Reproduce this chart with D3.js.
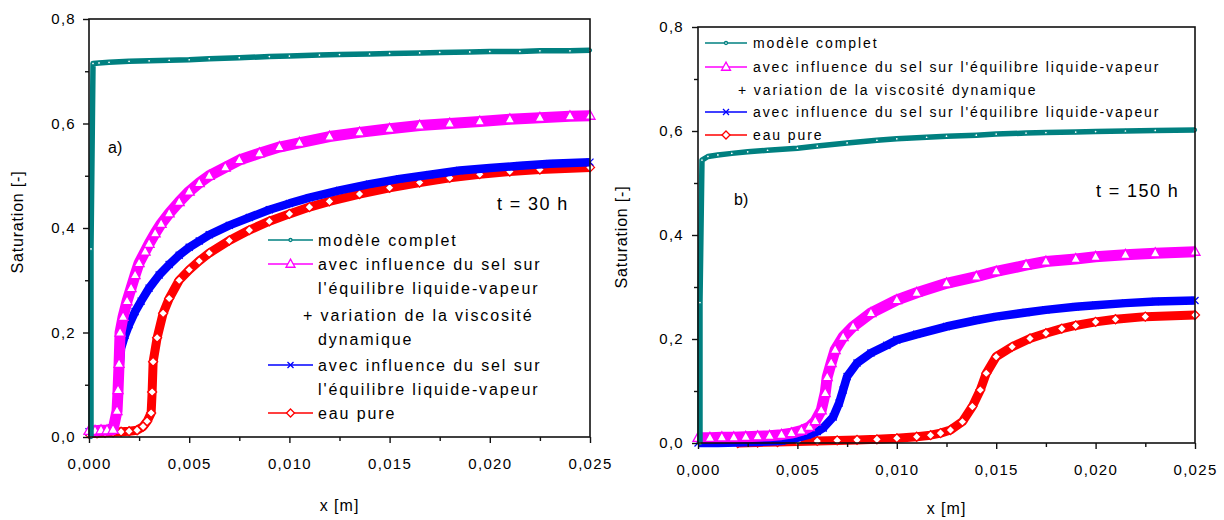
<!DOCTYPE html>
<html><head><meta charset="utf-8">
<script src="https://cdn.jsdelivr.net/npm/d3@7"></script>
<style>
body{margin:0;background:#fff;}
text{font-family:"Liberation Sans",Arial,sans-serif;fill:#000;}
</style>
</head><body>
<svg id="c" width="1224" height="520"></svg>
<script>
// ---------- DATA ----------
const xTickValues = [0, 0.005, 0.010, 0.015, 0.020, 0.025];
const xTickLabels = ["0,000", "0,005", "0,010", "0,015", "0,020", "0,025"];
const xMinorTicks = [0.0025, 0.0075, 0.0125, 0.0175, 0.0225];
const yTickValues = [0, 0.2, 0.4, 0.6, 0.8];
const yTickLabels = ["0,0", "0,2", "0,4", "0,6", "0,8"];
const yMinorTicks = [0.1, 0.3, 0.5, 0.7];

const legendLabels = ["modèle complet", "avec influence du sel sur l'équilibre liquide-vapeur", "+ variation de la viscosité dynamique", "avec influence du sel sur l'équilibre liquide-vapeur", "eau pure"];

// panel a) t = 30 h   [x (m), saturation]
const completA = [[0.0001,0.0],[0.0001,0.36],[0.0002,0.715],[0.0005,0.716],[0.001,0.717],[0.002,0.719],[0.003,0.72],[0.004,0.721],[0.005,0.722],[0.006,0.724],[0.0075,0.726],[0.009,0.728],[0.010,0.729],[0.0115,0.731],[0.0125,0.732],[0.014,0.733],[0.015,0.734],[0.0165,0.735],[0.0175,0.736],[0.019,0.737],[0.020,0.738],[0.0215,0.738],[0.0225,0.739],[0.024,0.739],[0.025,0.74]];
const viscoA = [[0.0,0.012],[0.0003,0.012],[0.0006,0.013],[0.0009,0.013],[0.0012,0.014],[0.0014,0.05],[0.00145,0.09],[0.0015,0.14],[0.00155,0.2],[0.0017,0.23],[0.0019,0.26],[0.0021,0.285],[0.0023,0.31],[0.0025,0.333],[0.0028,0.355],[0.003,0.37],[0.0033,0.39],[0.0036,0.408],[0.004,0.428],[0.0045,0.45],[0.005,0.47],[0.0055,0.486],[0.006,0.5],[0.0068,0.516],[0.0075,0.53],[0.0085,0.543],[0.0095,0.555],[0.0105,0.563],[0.012,0.575],[0.0135,0.583],[0.015,0.59],[0.0165,0.596],[0.018,0.6],[0.0195,0.604],[0.021,0.608],[0.0225,0.611],[0.024,0.614],[0.025,0.615]];
const selA = [[0.0,0.01],[0.0003,0.011],[0.0006,0.012],[0.0009,0.013],[0.0012,0.02],[0.0013,0.03],[0.0014,0.06],[0.0015,0.12],[0.0016,0.17],[0.0018,0.195],[0.002,0.215],[0.0023,0.24],[0.0026,0.26],[0.003,0.285],[0.0035,0.31],[0.004,0.33],[0.0045,0.348],[0.005,0.363],[0.0055,0.375],[0.006,0.387],[0.007,0.405],[0.008,0.42],[0.009,0.435],[0.010,0.447],[0.011,0.458],[0.0125,0.472],[0.014,0.484],[0.0155,0.494],[0.017,0.502],[0.0185,0.51],[0.020,0.515],[0.0215,0.519],[0.023,0.523],[0.025,0.526]];
const pureA = [[0.0,0.006],[0.0004,0.007],[0.0008,0.008],[0.0012,0.009],[0.0016,0.01],[0.002,0.011],[0.0024,0.013],[0.0027,0.02],[0.0029,0.03],[0.0031,0.046],[0.00315,0.086],[0.0032,0.144],[0.0034,0.19],[0.0037,0.237],[0.004,0.265],[0.0045,0.3],[0.005,0.32],[0.0055,0.337],[0.006,0.352],[0.007,0.376],[0.008,0.396],[0.009,0.413],[0.010,0.427],[0.011,0.44],[0.012,0.451],[0.0135,0.465],[0.015,0.477],[0.0165,0.487],[0.018,0.496],[0.0195,0.503],[0.021,0.508],[0.0225,0.512],[0.025,0.516]];

// panel b) t = 150 h
const completB = [[0.0001,0.0],[0.0001,0.27],[0.0002,0.544],[0.0005,0.551],[0.001,0.554],[0.0017,0.557],[0.0025,0.56],[0.0035,0.563],[0.005,0.567],[0.006,0.571],[0.0075,0.577],[0.009,0.582],[0.010,0.585],[0.0115,0.588],[0.0125,0.59],[0.014,0.592],[0.015,0.594],[0.0165,0.596],[0.0175,0.597],[0.019,0.598],[0.020,0.599],[0.0215,0.6],[0.023,0.601],[0.025,0.602]];
const viscoB = [[0.0,0.01],[0.0006,0.01],[0.0012,0.011],[0.0018,0.011],[0.0024,0.012],[0.003,0.013],[0.0036,0.014],[0.0042,0.016],[0.0047,0.019],[0.0052,0.024],[0.0056,0.031],[0.0059,0.042],[0.0062,0.063],[0.0064,0.096],[0.0065,0.127],[0.0067,0.154],[0.0069,0.179],[0.0073,0.204],[0.0078,0.224],[0.0087,0.25],[0.010,0.275],[0.011,0.289],[0.0125,0.307],[0.014,0.32],[0.015,0.33],[0.0165,0.342],[0.0175,0.349],[0.019,0.354],[0.020,0.358],[0.0215,0.362],[0.023,0.365],[0.025,0.368]];
const selB = [[0.0,0.0],[0.001,0.0],[0.002,0.001],[0.003,0.002],[0.0042,0.004],[0.0048,0.008],[0.0055,0.015],[0.006,0.022],[0.0063,0.029],[0.0068,0.05],[0.0071,0.077],[0.0073,0.102],[0.0075,0.128],[0.008,0.154],[0.0087,0.173],[0.0095,0.188],[0.010,0.198],[0.011,0.209],[0.0125,0.224],[0.014,0.236],[0.015,0.243],[0.0165,0.251],[0.0175,0.256],[0.019,0.262],[0.020,0.265],[0.0215,0.269],[0.023,0.272],[0.025,0.274]];
const pureB = [[0.002,0.0],[0.003,0.001],[0.004,0.002],[0.005,0.003],[0.006,0.004],[0.007,0.005],[0.008,0.006],[0.009,0.007],[0.010,0.009],[0.011,0.012],[0.0117,0.015],[0.0122,0.019],[0.0127,0.025],[0.0133,0.041],[0.0138,0.07],[0.0142,0.102],[0.0145,0.134],[0.015,0.166],[0.0158,0.185],[0.0167,0.201],[0.0175,0.211],[0.0183,0.22],[0.019,0.226],[0.020,0.233],[0.021,0.238],[0.0225,0.243],[0.025,0.246]];

// ---------- STYLE ----------
const C = {teal:"#008080", mag:"#ff00ff", blue:"#0000ff", red:"#ff0000"};
const FONT = '"Liberation Sans", Arial, sans-serif';

function markerPath(type, s){
  if(type==="circle"){ return d3.symbol().type(d3.symbolCircle).size(s*s*0.8)(); }
  if(type==="tri"){ const h=s*0.9, w=s/2; return `M0,${-h*0.6}L${w},${h*0.4}L${-w},${h*0.4}Z`; }
  if(type==="diam"){ const w=s/2; return `M0,${-w}L${w},0L0,${w}L${-w},0Z`; }
  if(type==="x"){ const w=s/2; return `M${-w},${-w}L${w},${w}M${-w},${w}L${w},${-w}`; }
  if(type==="plus"){ const w=s/2; return `M${-w},0L${w},0M0,${-w}L0,${w}`; }
}

const svg = d3.select("#c");

function panel(o){
  const x = d3.scaleLinear().domain([0,0.025]).range([o.x0,o.x1]);
  const y = d3.scaleLinear().domain([0,0.8]).range([o.y0,o.y1]);
  const g = svg.append("g");
  const line = d3.line().x(d=>x(d[0])).y(d=>y(d[1]));

  const series = [
    {data:o.pure, color:C.red, band:9, m:"diam", ms:9},
    {data:o.sel, color:C.blue, band:8.5, m:"x", ms:7},
    {data:o.visco, color:C.mag, band:11, m:"tri", ms:10},
    {data:o.complet, color:C.teal, band:5.5, m:"circle", ms:3}
  ];
  series.forEach(s=>{
    g.append("path").datum(s.data).attr("d",line)
      .attr("fill","none").attr("stroke",s.color).attr("stroke-width",s.band)
      .attr("stroke-linejoin","round").attr("stroke-linecap","butt");
    g.append("path").datum(s.data).attr("d",line)
      .attr("fill","none").attr("stroke",s.color).attr("stroke-width",1.2);
    g.selectAll(null).data(s.data).enter().append("path")
      .attr("transform",d=>`translate(${x(d[0])},${y(d[1])})`)
      .attr("d",markerPath(s.m,s.ms))
      .attr("fill", s.m==="x"?"none":"#fff")
      .attr("stroke",s.color).attr("stroke-width",1.3);
  });

  // frame
  g.append("rect").attr("x",o.x0).attr("y",o.y1)
    .attr("width",o.x1-o.x0).attr("height",o.y0-o.y1)
    .attr("fill","none").attr("stroke","#111").attr("stroke-width",1.6);

  // x axis
  g.append("g").attr("transform",`translate(0,${o.y0})`)
    .call(d3.axisBottom(x).tickValues(xTickValues).tickSize(6).tickPadding(15)
      .tickFormat((d,i)=>xTickLabels[i]));
  g.append("g").attr("transform",`translate(0,${o.y0})`)
    .call(d3.axisBottom(x).tickValues(xMinorTicks).tickSize(4).tickFormat(""))
    .call(a=>a.select(".domain").remove());
  // y axis
  g.append("g").attr("transform",`translate(${o.x0},0)`)
    .call(d3.axisLeft(y).tickValues(yTickValues).tickSize(6).tickPadding(o.ypad)
      .tickFormat((d,i)=>yTickLabels[i]));
  g.append("g").attr("transform",`translate(${o.x0},0)`)
    .call(d3.axisLeft(y).tickValues(yMinorTicks).tickSize(4).tickFormat(""))
    .call(a=>a.select(".domain").remove());
  g.selectAll(".domain").remove();
  g.selectAll(".tick line").attr("stroke","#111").attr("stroke-width",1.4);
  g.selectAll(".tick text").attr("font-family",FONT).attr("font-size",15)
    .attr("letter-spacing","1.3px").attr("fill","#000");

  // axis titles
  g.append("text").attr("x",(o.x0+o.x1)/2).attr("y",o.xlabY)
    .attr("text-anchor","middle").attr("font-size",16).attr("letter-spacing","1px")
    .text("x [m]");
  g.append("text").attr("transform",`translate(${o.ylabX},${o.ylabY}) rotate(-90)`)
    .attr("text-anchor","middle").attr("font-size",16).attr("letter-spacing","0.8px")
    .text("Saturation [-]");

  // panel tag and time
  g.append("text").attr("x",o.tagX).attr("y",o.tagY).attr("font-size",16).text(o.tag);
  g.append("text").attr("x",o.tX).attr("y",o.tY).attr("font-size",18)
    .attr("letter-spacing","1.4px").text(o.tText);

  // legend
  const L = o.leg;
  const entries = [
    {color:C.teal, m:"circle", ms:3},
    {color:C.mag, m:"tri", ms:9},
    {color:null},
    {color:C.blue, m:"x", ms:6},
    {color:C.red, m:"diam", ms:8}
  ];
  L.rows.forEach(r=>{
    const e = r.entry!==undefined ? entries[r.entry] : null;
    if(e && e.color){
      g.append("line").attr("x1",L.lx0).attr("x2",L.lx1).attr("y1",r.y).attr("y2",r.y)
        .attr("stroke",e.color).attr("stroke-width",1.6);
      g.append("path").attr("transform",`translate(${(L.lx0+L.lx1)/2},${r.y})`)
        .attr("d",markerPath(e.m,e.ms)).attr("fill",e.m==="x"?"none":"#fff")
        .attr("stroke",e.color).attr("stroke-width",1.3);
    }
    g.append("text").attr("x",r.x!==undefined?r.x:L.tx).attr("y",r.y).attr("dy","0.36em")
      .attr("font-size",L.fs).attr("letter-spacing",L.ls+"px").text(r.text);
  });
}

panel({
  x0:89, x1:590, y0:437, y1:19, ypad:7,
  complet:completA, visco:viscoA, sel:selA, pure:pureA,
  xlabY:511, ylabX:23, ylabY:222,
  tag:"a)", tagX:108, tagY:153, tText:"t = 30 h", tX:497, tY:210,
  leg:{lx0:268, lx1:313, tx:318, fs:16, ls:1.9, rows:[
    {entry:0, y:240, text:legendLabels[0]},
    {entry:1, y:264, text:"avec influence du sel sur"},
    {y:288, text:"l'équilibre liquide-vapeur"},
    {y:315, x:303, text:"+ variation de la viscosité"},
    {y:339, text:"dynamique"},
    {entry:3, y:365, text:"avec influence du sel sur"},
    {y:389, text:"l'équilibre liquide-vapeur"},
    {entry:4, y:413, text:legendLabels[4]}
  ]}
});

panel({
  x0:698, x1:1195, y0:443, y1:27, ypad:8,
  complet:completB, visco:viscoB, sel:selB, pure:pureB,
  xlabY:514, ylabX:627, ylabY:237,
  tag:"b)", tagX:734, tagY:205, tText:"t = 150 h", tX:1096, tY:197,
  leg:{lx0:705, lx1:747, tx:753, fs:14, ls:1.9, rows:[
    {entry:0, y:43, text:legendLabels[0]},
    {entry:1, y:67, text:legendLabels[1]},
    {y:90, x:738, text:legendLabels[2]},
    {entry:3, y:112, text:legendLabels[3]},
    {entry:4, y:135, text:legendLabels[4]}
  ]}
});
</script>
</body></html>
